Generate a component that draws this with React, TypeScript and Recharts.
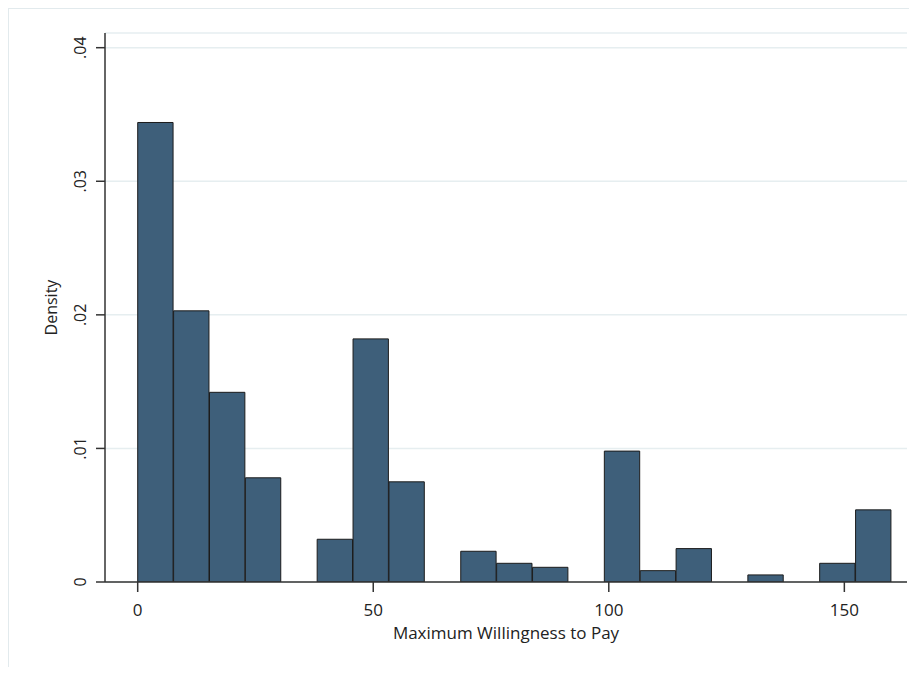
import React from 'react';
import { BarChart, Bar, XAxis, YAxis, CartesianGrid, Label } from 'recharts';

// histogram bins (lower/upper edges), 21 bins over 0..160
const binEdges = [
  0, 7.62, 15.24, 22.86, 30.48, 38.1, 45.71, 53.33, 60.95, 68.57, 76.19,
  83.81, 91.43, 99.05, 106.67, 114.29, 121.9, 129.52, 137.14, 144.76, 152.38, 160,
];
const densities = [
  0.0344, 0.0203, 0.0142, 0.0078, 0, 0.0032, 0.0182, 0.0075, 0, 0.0023, 0.0014,
  0.0011, 0, 0.0098, 0.00085, 0.0025, 0, 0.00053, 0, 0.0014, 0.0054,
];
const xTicks = [0, 50, 100, 150];
const yTicks = [0, 0.01, 0.02, 0.03, 0.04];
const yTickLabels = ['0', '.01', '.02', '.03', '.04'];

const data = densities.map((d, i) => ({
  mid: (binEdges[i] + binEdges[i + 1]) / 2,
  density: d,
}));

const FONT = '"Open Sans", sans-serif';
const X_DOMAIN: [number, number] = [-6.94, 163.3];
const PLOT_W = 802;
// a hair under the bin spacing, otherwise recharts shrinks bars to 90%
const barWidth =
  ((PLOT_W * (binEdges[1] - binEdges[0])) / (X_DOMAIN[1] - X_DOMAIN[0])) * 0.985;

const YTick = (props: any) => {
  const { x, y, payload } = props;
  const idx = yTicks.indexOf(payload.value);
  return (
    <text
      x={x}
      y={y}
      dy="0.35em"
      transform={`rotate(-90, ${x}, ${y})`}
      textAnchor="middle"
      fill="#222"
      fontSize={16}
      fontFamily={FONT}
    >
      {idx >= 0 ? yTickLabels[idx] : payload.value}
    </text>
  );
};

export default function App() {
  return (
    <div
      style={{
        width: 909,
        height: 659,
        boxSizing: 'border-box',
        borderTop: '1px solid #e2eaed',
        borderLeft: '1px solid #e2eaed',
        background: '#fff',
      }}
    >
      <BarChart
        width={908}
        height={658}
        data={data}
        margin={{ top: 24, right: 10, bottom: 15, left: 0 }}
        barCategoryGap={0}
        barGap={0}
      >
        <CartesianGrid vertical={false} stroke="#e6eef0" strokeWidth={1.5} />
        <XAxis
          dataKey="mid"
          type="number"
          domain={X_DOMAIN}
          allowDataOverflow
          ticks={xTicks}
          height={70}
          tickSize={10}
          tickMargin={12}
          stroke="#333"
          strokeWidth={1.5}
          tick={{ fill: '#222', fontSize: 17, fontFamily: FONT }}
        >
          <Label
            value="Maximum Willingness to Pay"
            position="insideBottom"
            offset={13}
            fill="#222"
            fontSize={17}
            fontFamily={FONT}
          />
        </XAxis>
        <YAxis
          type="number"
          domain={[0, 0.0411]}
          allowDataOverflow
          ticks={yTicks}
          width={96}
          tickSize={9}
          tickMargin={16}
          stroke="#333"
          strokeWidth={1.5}
          tick={<YTick />}
        >
          <Label
            value="Density"
            angle={-90}
            position="insideLeft"
            offset={42}
            fill="#222"
            fontSize={16}
            fontFamily={FONT}
            style={{ textAnchor: 'middle' }}
          />
        </YAxis>
        <Bar
          dataKey="density"
          fill="#3e5f7a"
          stroke="#1c1c1c"
          strokeWidth={1}
          barSize={barWidth}
          isAnimationActive={false}
        />
      </BarChart>
    </div>
  );
}
